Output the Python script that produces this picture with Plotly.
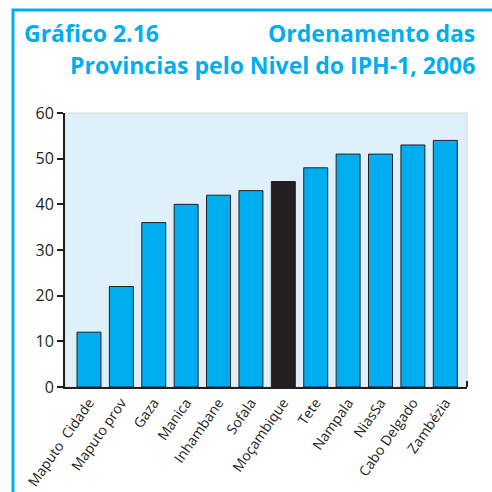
import plotly.graph_objects as go

categories = ["Maputo  Cidade", "Maputo prov", "Gaza", "Manica", "Inhambane", "Sofala",
              "Moçambique", "Tete", "Nampala", "NiasSa", "Cabo Delgado", "Zambézia"]
values = [12, 22, 36, 40, 42, 43, 45, 48, 51, 51, 53, 54]
highlight = "Moçambique"
y_ticks = [0, 10, 20, 30, 40, 50, 60]

CYAN = "#00aeef"
DARK = "#231f20"
colors = [DARK if c == highlight else CYAN for c in categories]

L, R, T, B = 65, 25, 113, 105
W = H = 492
pw = W - L - R
ph = H - T - B

def px(x):
    return (x - L) / pw

def py(y):
    return 1 - (y - T) / ph

fig = go.Figure(go.Bar(
    x=list(range(len(categories))), y=values,
    marker=dict(color=colors, line=dict(color=DARK, width=1)),
))

fig.update_layout(
    width=W, height=H,
    margin=dict(l=L, r=R, t=T, b=B, autoexpand=False),
    paper_bgcolor="white", plot_bgcolor="#dff0fa",
    bargap=0.26, showlegend=False,
    font=dict(family="Open Sans, Lato, sans-serif", color=DARK, size=14),
    xaxis=dict(
        tickmode="array", tickvals=list(range(len(categories))), ticktext=categories,
        tickangle=-55, range=[-0.74, 11.67], showline=True, linecolor=DARK, linewidth=2,
        ticks="", showgrid=False, zeroline=False, tickfont=dict(size=14), automargin=False,
    ),
    yaxis=dict(
        range=[0, 60], tickvals=y_ticks, showline=True, linecolor=DARK, linewidth=2,
        ticks="outside", ticklen=6, tickwidth=2, tickcolor=DARK, showgrid=False,
        zeroline=False, tickfont=dict(size=16), automargin=False,
    ),
    shapes=[
        dict(type="rect", xref="paper", yref="paper", x0=px(13), x1=px(500), y0=py(500), y1=py(10),
             line=dict(color=CYAN, width=3), fillcolor="rgba(0,0,0,0)", layer="below"),
        dict(type="rect", xref="paper", yref="paper", x0=0, x1=1, y0=0, y1=1,
             line=dict(color="#d8d8d8", width=1), fillcolor="rgba(0,0,0,0)", layer="below"),
        dict(type="line", xref="paper", yref="paper", x0=1, x1=1, y0=0, y1=py(381),
             line=dict(color=DARK, width=2)),
    ],
    annotations=[
        dict(text="<b>Gráfico 2.16</b>", xref="paper", yref="paper", x=px(22), y=py(33),
             xanchor="left", yanchor="middle", showarrow=False,
             font=dict(size=23, color=CYAN, family="Open Sans, sans-serif")),
        dict(text="<b>Ordenamento das</b>", xref="paper", yref="paper", x=px(477), y=py(33),
             xanchor="right", yanchor="middle", showarrow=False,
             font=dict(size=23, color=CYAN, family="Open Sans, sans-serif")),
        dict(text="<b>Provincias pelo Nivel do IPH-1, 2006</b>", xref="paper", yref="paper",
             x=px(477), y=py(65), xanchor="right", yanchor="middle", showarrow=False,
             font=dict(size=23, color=CYAN, family="Open Sans, sans-serif")),
    ],
)

fig.write_html("out.html", config={"displayModeBar": False},
               post_script="document.body.style.margin='0';document.body.style.overflow='hidden';")
